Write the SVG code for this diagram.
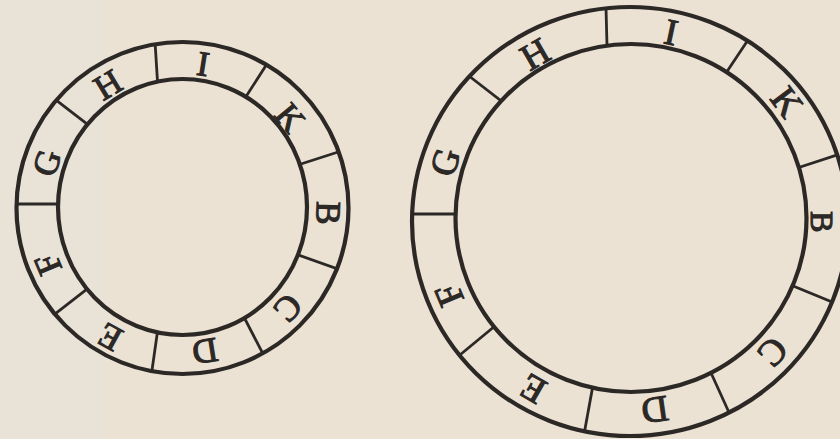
<svg xmlns="http://www.w3.org/2000/svg" width="840" height="439" viewBox="0 0 840 439">
  <style>
    .ring { fill: none; stroke: #2b2826; stroke-width: 4.2; }
    .div { stroke: #2b2826; stroke-width: 2.8; stroke-linecap: butt; }
    .lbl { font-family: "Liberation Serif", "Times New Roman", serif; fill: #2b2826; stroke: #2b2826; stroke-width: 1.1; text-anchor: middle; dominant-baseline: central; }
    .l1 { font-size: 35px; }
    .l2 { font-size: 37px; }
    .l2b { font-size: 32px; }
  </style>
  <defs>
    <clipPath id="annL">
      <path clip-rule="evenodd" d="M16.5,208 a166,166 0 1,0 332,0 a166,166 0 1,0 -332,0 Z M58,207 a124.5,128 0 1,0 249,0 a124.5,128 0 1,0 -249,0 Z"/>
    </clipPath>
    <clipPath id="annR">
      <path clip-rule="evenodd" d="M412,221.5 a218,214.5 0 1,0 436,0 a218,214.5 0 1,0 -436,0 Z M455.5,218 a175.5,174 0 1,0 351,0 a175.5,174 0 1,0 -351,0 Z"/>
    </clipPath>
  </defs>

  <rect id="paper" x="0" y="0" width="840" height="439" fill="#ECE2D3"/>
  <rect id="paper-fold" x="0" y="0" width="108" height="439" fill="#E9E3D7"/>

  <g id="ring-left">
    <g id="ring-left-dividers" clip-path="url(#annL)">
      <line class="div" x1="154.4" y1="32.3" x2="158.5" y2="96.6"/>
      <line class="div" x1="269.5" y1="60" x2="239.8" y2="106.2"/>
      <line class="div" x1="342.8" y1="150.5" x2="291.6" y2="167"/>
      <line class="div" x1="342.8" y1="270.8" x2="291.6" y2="252.6"/>
      <line class="div" x1="265.8" y1="359.3" x2="241" y2="311.4"/>
      <line class="div" x1="150.8" y1="378.8" x2="159" y2="321"/>
      <line class="div" x1="54.5" y1="314.3" x2="90.8" y2="286.2"/>
      <line class="div" x1="7.8" y1="204" x2="75.4" y2="204"/>
      <line class="div" x1="54.5" y1="98.8" x2="90.8" y2="126.8"/>
    </g>
    <ellipse class="ring" cx="182.5" cy="208" rx="166" ry="166"/>
    <ellipse class="ring" cx="182.5" cy="207" rx="124.5" ry="128"/>
    <g id="ring-left-labels">
      <text class="lbl l1" transform="translate(203,64) rotate(9)">I</text>
      <text class="lbl l1" transform="translate(290,118) rotate(50.5)">K</text>
      <text class="lbl l1" transform="translate(328,213) rotate(92)">B</text>
      <text class="lbl l1" transform="translate(288,308) rotate(133)">C</text>
      <text class="lbl l1" transform="translate(205,351) rotate(171)">D</text>
      <text class="lbl l1" transform="translate(110,337) rotate(209)">E</text>
      <text class="lbl l1" transform="translate(48,264) rotate(247)">F</text>
      <text class="lbl l1" transform="translate(47,163) rotate(288)">G</text>
      <text class="lbl l1" transform="translate(108,85) rotate(329)">H</text>
    </g>
  </g>

  <g id="ring-right">
    <g id="ring-right-dividers" clip-path="url(#annR)">
      <line class="div" x1="605.8" y1="0" x2="607.4" y2="60.8"/>
      <line class="div" x1="753" y1="32.5" x2="720" y2="82"/>
      <line class="div" x1="846" y1="152" x2="785" y2="172"/>
      <line class="div" x1="842" y1="306" x2="781" y2="281"/>
      <line class="div" x1="732" y1="419" x2="705.6" y2="361"/>
      <line class="div" x1="583" y1="440" x2="595" y2="374"/>
      <line class="div" x1="455" y1="359" x2="501" y2="321"/>
      <line class="div" x1="401" y1="214" x2="473.6" y2="214"/>
      <line class="div" x1="460" y1="69" x2="512.8" y2="110"/>
    </g>
    <ellipse class="ring" cx="630" cy="221.5" rx="218" ry="214.5"/>
    <ellipse class="ring" cx="631" cy="218" rx="175.5" ry="174"/>
    <g id="ring-right-labels">
      <text class="lbl l2" transform="translate(671,32) rotate(12)">I</text>
      <text class="lbl l2" transform="translate(787,102) rotate(53)">K</text>
      <text class="lbl l2b" transform="translate(822,222) rotate(90)">B</text>
      <text class="lbl l2" transform="translate(773,352) rotate(133)">C</text>
      <text class="lbl l2" transform="translate(655,410) rotate(172)">D</text>
      <text class="lbl l2" transform="translate(533,389) rotate(210)">E</text>
      <text class="lbl l2" transform="translate(449,295) rotate(247)">F</text>
      <text class="lbl l2" transform="translate(445,162) rotate(287)">G</text>
      <text class="lbl l2" transform="translate(535,54) rotate(330)">H</text>
    </g>
  </g>
</svg>
